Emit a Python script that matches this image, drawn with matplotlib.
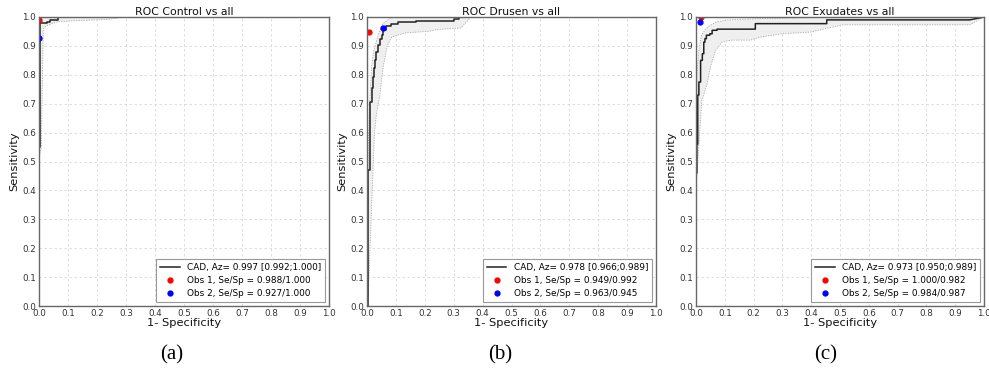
import numpy as np
import matplotlib
matplotlib.use("Agg")
import matplotlib.pyplot as plt

# ---------------- data ----------------
titles = ["ROC Control vs all", "ROC Drusen vs all", "ROC Exudates vs all"]
panel_labels = ["(a)", "(b)", "(c)"]
cad_labels = ["CAD, Az= 0.997 [0.992;1.000]",
              "CAD, Az= 0.978 [0.966;0.989]",
              "CAD, Az= 0.973 [0.950;0.989]"]
obs1_labels = ["Obs 1, Se/Sp = 0.988/1.000",
               "Obs 1, Se/Sp = 0.949/0.992",
               "Obs 1, Se/Sp = 1.000/0.982"]
obs2_labels = ["Obs 2, Se/Sp = 0.927/1.000",
               "Obs 2, Se/Sp = 0.963/0.945",
               "Obs 2, Se/Sp = 0.984/0.987"]
obs1_se = [0.988, 0.949, 1.000]
obs1_sp = [1.000, 0.992, 0.982]
obs2_se = [0.927, 0.963, 0.984]
obs2_sp = [1.000, 0.945, 0.987]

# ROC curves (1-specificity, sensitivity)
fpr_a = [0, 0, 0.005, 0.005, 0.026, 0.026, 0.038, 0.038, 0.064, 0.064, 1.0]
tpr_a = [0, 0.55, 0.55, 0.978, 0.978, 0.984, 0.984, 0.990, 0.990, 1.0, 1.0]

fpr_b = [0, 0.003, 0.003, 0.005, 0.005, 0.010, 0.010, 0.017, 0.017, 0.021, 0.021,
         0.025, 0.025, 0.029, 0.029, 0.032, 0.032, 0.039, 0.039, 0.046, 0.046,
         0.053, 0.053, 0.057, 0.057, 0.067, 0.067, 0.082, 0.082, 0.107, 0.107,
         0.170, 0.170, 0.300, 0.300, 0.320, 0.320, 1.0]
tpr_b = [0, 0, 0.22, 0.22, 0.47, 0.47, 0.707, 0.707, 0.753, 0.753, 0.793,
         0.793, 0.822, 0.822, 0.851, 0.851, 0.880, 0.880, 0.903, 0.903, 0.924,
         0.924, 0.938, 0.938, 0.955, 0.955, 0.970, 0.970, 0.976, 0.976, 0.984,
         0.984, 0.987, 0.987, 0.992, 0.992, 1.0, 1.0]

fpr_c = [0, 0, 0.003, 0.003, 0.006, 0.006, 0.010, 0.010, 0.016, 0.016, 0.022, 0.022,
         0.027, 0.027, 0.031, 0.031, 0.036, 0.036, 0.048, 0.048, 0.056, 0.056,
         0.073, 0.073, 0.206, 0.206, 0.454, 0.454, 0.950, 1.0]
tpr_c = [0, 0.46, 0.46, 0.56, 0.56, 0.73, 0.73, 0.775, 0.775, 0.850, 0.850, 0.873,
         0.873, 0.913, 0.913, 0.925, 0.925, 0.937, 0.937, 0.942, 0.942, 0.954,
         0.954, 0.958, 0.958, 0.977, 0.977, 0.990, 0.990, 1.0]

# confidence bands (upper and lower boundaries)
hi_x_a = [0, 0, 0.004, 0.010, 0.02, 1.0]
hi_y_a = [0, 0.975, 0.992, 0.998, 1.0, 1.0]
lo_x_a = [0, 0.008, 0.012, 0.015, 0.03, 0.066, 0.12, 0.20, 0.25, 0.29, 1.0]
lo_y_a = [0.51, 0.55, 0.80, 0.961, 0.972, 0.984, 0.987, 0.990, 0.993, 1.0, 1.0]

hi_x_b = [0, 0.002, 0.005, 0.009, 0.016, 0.024, 0.040, 0.053, 0.077, 0.094, 1.0]
hi_y_b = [0, 0.30, 0.57, 0.70, 0.83, 0.885, 0.942, 0.975, 0.994, 1.0, 1.0]
lo_x_b = [0, 0.005, 0.015, 0.026, 0.033, 0.043, 0.056, 0.070, 0.085, 0.13,
          0.21, 0.245, 0.325, 0.36, 1.0]
lo_y_b = [0, 0.05, 0.32, 0.60, 0.667, 0.72, 0.827, 0.90, 0.93, 0.945,
          0.950, 0.957, 0.962, 1.0, 1.0]

hi_x_c = [0, 0, 0.003, 0.010, 0.020, 0.040, 0.070, 0.110, 0.210, 0.480, 1.0]
hi_y_c = [0, 0.60, 0.80, 0.885, 0.940, 0.965, 0.983, 0.990, 0.994, 1.0, 1.0]
lo_x_c = [0, 0, 0.020, 0.039, 0.050, 0.068, 0.090, 0.120, 0.190, 0.220,
          0.300, 0.400, 0.450, 0.510, 0.950, 1.0]
lo_y_c = [0, 0.40, 0.71, 0.77, 0.827, 0.885, 0.913, 0.920, 0.920, 0.930,
          0.942, 0.948, 0.960, 0.973, 0.973, 1.0]

curves = [(fpr_a, tpr_a), (fpr_b, tpr_b), (fpr_c, tpr_c)]
bands = [(hi_x_a, hi_y_a, lo_x_a, lo_y_a),
         (hi_x_b, hi_y_b, lo_x_b, lo_y_b),
         (hi_x_c, hi_y_c, lo_x_c, lo_y_c)]
ticks = [round(0.1 * i, 1) for i in range(11)]
tick_labels = ["%.1f" % t for t in ticks]

# ---------------- figure ----------------
W, H = 989, 371
fig = plt.figure(figsize=(W / 100, H / 100), dpi=100)
fig.patch.set_facecolor("white")

axes_px = [(39, 329), (367, 656), (696, 984)]
top_px, bot_px = 17, 306
label_x_px = [172, 500, 826]

for i, (l, r) in enumerate(axes_px):
    ax = fig.add_axes([l / W, (H - bot_px) / H, (r - l) / W, (bot_px - top_px) / H])
    hx, hy, lx, ly = bands[i]
    px = list(hx) + list(lx)[::-1]
    py = list(hy) + list(ly)[::-1]
    ax.fill(px, py, color="#efefef", lw=0, zorder=1)
    ax.plot(hx, hy, color="#aaaaaa", lw=0.6, ls=(0, (1.5, 1.5)), zorder=2)
    ax.plot(lx, ly, color="#aaaaaa", lw=0.6, ls=(0, (1.5, 1.5)), zorder=2)

    fx, ty = curves[i]
    ax.plot(fx, ty, color="#222222", lw=1.1, zorder=4, label=cad_labels[i])
    ax.plot([1 - obs1_sp[i]], [obs1_se[i]], "o", color="red", ms=3.5, mec="red",
            ls="none", zorder=5, label=obs1_labels[i], clip_on=True)
    ax.plot([1 - obs2_sp[i]], [obs2_se[i]], "o", color="blue", ms=3.5, mec="blue",
            ls="none", zorder=5, label=obs2_labels[i], clip_on=True)

    ax.set_xlim(0, 1)
    ax.set_ylim(0, 1)
    ax.set_xticks(ticks)
    ax.set_yticks(ticks)
    ax.set_xticklabels(tick_labels)
    ax.set_yticklabels(tick_labels)
    ax.tick_params(labelsize=6.3, colors="#333333", length=0, pad=2)
    ax.grid(True, color="#d8d8d8", lw=0.6, ls=(0, (3, 3)), zorder=0)
    ax.set_axisbelow(True)
    for s in ax.spines.values():
        s.set_color("#666666")
        s.set_linewidth(1.0)
        s.set_zorder(6)

    ax.set_title(titles[i], fontsize=7.8, pad=1.5, color="#111111")
    ax.set_xlabel("1- Specificity", fontsize=8.2, labelpad=0, color="#111111")
    ax.set_ylabel("Sensitivity", fontsize=8.2, labelpad=2, color="#111111")

    leg = ax.legend(loc="lower right", fontsize=6.4, numpoints=1, fancybox=False,
                    framealpha=1, edgecolor="#999999", handlelength=2.2,
                    borderaxespad=0.45, labelspacing=0.45, borderpad=0.45,
                    handletextpad=0.8)
    leg.get_frame().set_linewidth(0.8)

    fig.text(label_x_px[i] / W, 1 - 355 / H, panel_labels[i], ha="center", va="center",
             fontsize=15, family="Liberation Serif")

fig.savefig("out.png", dpi=100, facecolor="white")
